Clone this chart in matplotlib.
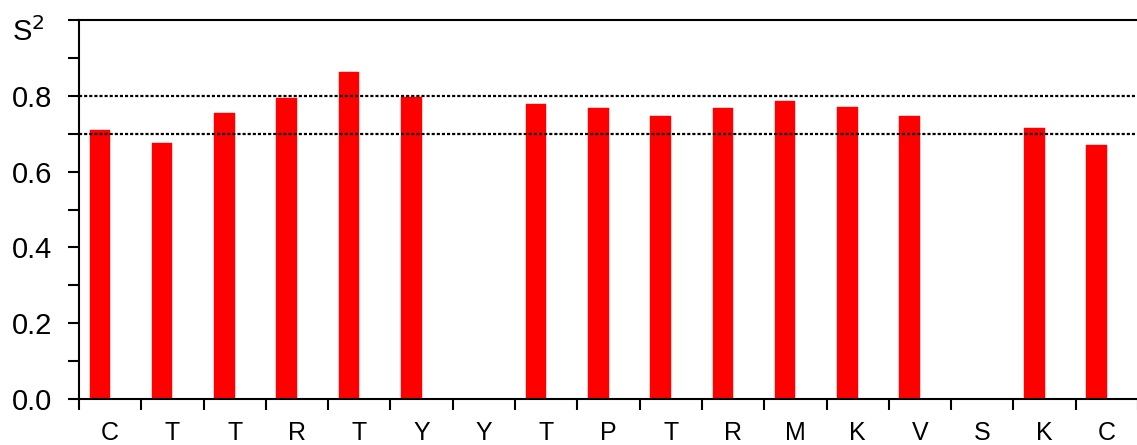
import numpy as np
import matplotlib
matplotlib.use("Agg")
import matplotlib.pyplot as plt
from matplotlib.ticker import FixedLocator, NullFormatter

plt.rcParams['font.family'] = ['Liberation Sans', 'DejaVu Sans']

# Residues along the sequence and their order parameters (nan = no data)
residues = ['C', 'T', 'T', 'R', 'T', 'Y', 'Y', 'T', 'P', 'T', 'R', 'M', 'K', 'V', 'S', 'K', 'C']
s2_values = [0.710, 0.676, 0.755, 0.794, 0.864, 0.798, np.nan, 0.778, 0.769, 0.747,
             0.769, 0.786, 0.770, 0.748, np.nan, 0.716, 0.669]
reference_levels = [0.8, 0.7]
y_major = [0.0, 0.2, 0.4, 0.6, 0.8]
y_minor = [0.1, 0.3, 0.5, 0.7, 0.9, 1.0]

W, H = 1137, 445
fig = plt.figure(figsize=(W / 100, H / 100), dpi=100)
left_px, right_px, top_px, bottom_px = 79, 1138, 20, 399
ax = fig.add_axes([left_px / W, (H - bottom_px) / H,
                   (right_px - left_px) / W, (bottom_px - top_px) / H])

x = np.arange(len(residues))
ax.bar(x, s2_values, width=-0.33, align='edge', color='#ff0000',
       edgecolor='#ff0000', linewidth=0.3, zorder=2)

for lvl in reference_levels:
    ax.axhline(lvl, color='black', linewidth=1.6, linestyle=(0, (1.4, 0.9)), zorder=3)

ax.set_xlim(-0.5, len(residues) - 0.5)
ax.set_ylim(0.0, 1.0)

# x: boundary ticks without labels, residue labels centred in each slot
ax.xaxis.set_major_locator(FixedLocator(np.arange(len(residues) + 1) - 0.5))
ax.xaxis.set_major_formatter(NullFormatter())
ax.xaxis.set_minor_locator(FixedLocator(x))
ax.set_xticklabels(residues, minor=True)
ax.tick_params(axis='x', which='major', direction='out', length=8, width=1.5, color='black')
ax.tick_params(axis='x', which='minor', length=0, pad=16, labelsize=18)

# y: labelled majors, unlabelled minors
ax.set_yticks(y_major)
ax.set_yticklabels([f"{v:.1f}" for v in y_major])
ax.yaxis.set_minor_locator(FixedLocator(y_minor))
ax.tick_params(axis='y', which='both', direction='out', length=8, width=1.5, color='black')
ax.tick_params(axis='y', which='major', pad=11, labelsize=21)

for side in ['left', 'bottom', 'top', 'right']:
    ax.spines[side].set_linewidth(1.5)
    ax.spines[side].set_color('black')

fig.text(12 / W, (H - 32) / H, r'S$^2$', fontsize=21, ha='left', va='center')

fig.savefig('out.png', dpi=100, facecolor='white')
